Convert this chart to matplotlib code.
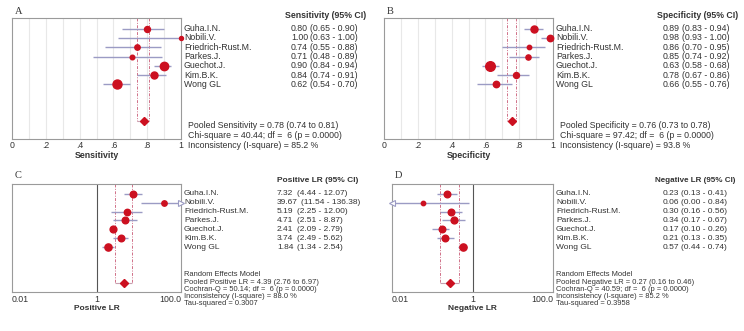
import numpy as np
import matplotlib
matplotlib.use("Agg")
import matplotlib.pyplot as plt

plt.rcParams["font.family"] = ["Liberation Sans", "DejaVu Sans"]

# study names shared by all four panels
studies = ["Guha.I.N.", "Nobili.V.", "Friedrich-Rust.M.", "Parkes.J.",
           "Guechot.J.", "Kim.B.K.", "Wong GL"]

# A - sensitivity
sens = [0.80, 1.00, 0.74, 0.71, 0.90, 0.84, 0.62]
sens_lo = [0.65, 0.63, 0.55, 0.48, 0.84, 0.74, 0.54]
sens_hi = [0.90, 1.00, 0.88, 0.89, 0.94, 0.91, 0.70]
sens_pool = [0.78, 0.74, 0.81]
sens_w = [3.0, 2.0, 2.7, 2.3, 4.2, 3.5, 4.5]  # marker radius (px)

# B - specificity
spec = [0.89, 0.98, 0.86, 0.85, 0.63, 0.78, 0.66]
spec_lo = [0.83, 0.93, 0.70, 0.74, 0.58, 0.67, 0.55]
spec_hi = [0.94, 1.00, 0.95, 0.92, 0.68, 0.86, 0.76]
spec_pool = [0.76, 0.73, 0.78]
spec_w = [3.5, 3.2, 2.2, 2.6, 4.8, 3.0, 3.2]

# C - positive LR
plr = [7.32, 39.67, 5.19, 4.71, 2.41, 3.74, 1.84]
plr_lo = [4.44, 11.54, 2.25, 2.51, 2.09, 2.49, 1.34]
plr_hi = [12.07, 136.38, 12.00, 8.87, 2.79, 5.62, 2.54]
plr_pool = [4.39, 2.76, 6.97]
plr_w = [3.3, 2.7, 3.2, 3.3, 3.4, 3.3, 3.6]

# D - negative LR
nlr = [0.23, 0.06, 0.30, 0.34, 0.17, 0.21, 0.57]
nlr_lo = [0.13, 0.00, 0.16, 0.17, 0.10, 0.13, 0.44]
nlr_hi = [0.41, 0.84, 0.56, 0.67, 0.26, 0.35, 0.74]
nlr_pool = [0.27, 0.16, 0.46]
nlr_w = [3.3, 2.2, 3.3, 3.4, 3.3, 3.3, 3.6]

W, H = 744, 331
RED = "#cc1020"
CI_COL = "#9b9bc4"
TXT = "#333333"

fig = plt.figure(figsize=(W / 100, H / 100), dpi=100)
fig.patch.set_facecolor("white")


def ftext(x, y, s, **kw):
    kw.setdefault("color", TXT)
    kw.setdefault("va", "center")
    fig.text(x / W, 1 - y / H, s, **kw)


def panel(box, est, lo, hi, pool, wts, log, row0, dy, diam_y):
    l, t, r, b = box
    ax = fig.add_axes([l / W, 1 - b / H, (r - l) / W, (b - t) / H])
    # y in figure pixel units (top down)
    ax.set_ylim(b, t)
    if log:
        ax.set_xscale("log")
        xmin, xmax = 0.01, 100.0
    else:
        xmin, xmax = 0.0, 1.0
    ax.set_xlim(xmin, xmax)
    for sp in ax.spines.values():
        sp.set_color("#9a9a9a")
        sp.set_linewidth(0.8)
    ax.set_yticks([])
    ax.tick_params(axis="x", length=0, labelsize=6.3, labelcolor=TXT)
    if log:
        ax.axvline(1, color="#555555", lw=0.8)
    else:
        for g in np.arange(0.1, 1.0, 0.1):
            ax.axvline(g, color="#e8e8e8", lw=0.8, zorder=0)
    # pooled CI box
    ax.vlines([pool[1], pool[2]], t, diam_y, colors="#d07088",
              linestyles=(0, (3, 1.5, 1, 1.5)), lw=0.7)
    ax.hlines(diam_y, pool[1], pool[2], colors="#c8a0b0", lw=0.8)
    ax.plot(pool[0], diam_y, marker="D", ms=4.5, color=RED, mec=RED, zorder=4)
    for i in range(len(est)):
        y = row0 + i * dy
        a, c = lo[i], hi[i]
        if log and a < xmin:
            a = xmin
            ax.plot(xmin, y, marker="<", ms=5, mfc="white", mec=CI_COL,
                    mew=0.8, clip_on=False, zorder=3)
        if log and c > xmax:
            c = xmax
            ax.plot(xmax, y, marker=">", ms=5, mfc="white", mec=CI_COL,
                    mew=0.8, clip_on=False, zorder=3)
        ax.hlines(y, a, c, colors=CI_COL, lw=1.0, zorder=2)
        ax.plot(est[i], y, "o", ms=wts[i] * 2 * 0.72, color=RED, mec=RED,
                zorder=5, clip_on=False)
    return ax


def table(est, lo, hi, names_x, val_x, ci_x, row0, dy, fs, nobili_x=None):
    for i in range(len(est)):
        y = row0 + i * dy
        ftext(names_x, y, studies[i], fontsize=fs)
        ftext(val_x, y, f"{est[i]:.2f}", fontsize=fs)
        cx = ci_x
        if nobili_x is not None and i == 1:
            cx = nobili_x
        ftext(cx, y, f"({lo[i]:.2f} - {hi[i]:.2f})", fontsize=fs)


FS = 6.3
FS2 = 6.0
FS3 = 5.4
sum_y = [275.0 + 7.2 * k for k in range(5)]

# ---- A ----
axA = panel((12, 18, 181, 139), sens, sens_lo, sens_hi, sens_pool, sens_w,
            False, 28.7, 9.27, 121)
axA.set_xticks([0, .2, .4, .6, .8, 1])
axA.set_xticklabels(["0", ".2", ".4", ".6", ".8", "1"])
axA.tick_params(axis="x", pad=1.5)
table(sens, sens_lo, sens_hi, 184, 291, 310, 28.7, 9.27, FS)
ftext(285, 15, "Sensitivity (95% CI)", fontsize=FS, fontweight="bold")
ftext(96.5, 155.5, "Sensitivity", fontsize=FS, fontweight="bold", ha="center")
ftext(188, 125, "Pooled Sensitivity = 0.78 (0.74 to 0.81)", fontsize=FS)
ftext(188, 135, "Chi-square = 40.44; df =  6 (p = 0.0000)", fontsize=FS)
ftext(188, 145, "Inconsistency (I-square) = 85.2 %", fontsize=FS)
ftext(15, 12, "A", fontsize=7.5, family="Liberation Serif")

# ---- B ----
axB = panel((384, 18, 553, 139), spec, spec_lo, spec_hi, spec_pool, spec_w,
            False, 28.7, 9.27, 121)
axB.set_xticks([0, .2, .4, .6, .8, 1])
axB.set_xticklabels(["0", ".2", ".4", ".6", ".8", "1"])
axB.tick_params(axis="x", pad=1.5)
table(spec, spec_lo, spec_hi, 556, 663, 682, 28.7, 9.27, FS)
ftext(657, 15, "Specificity (95% CI)", fontsize=FS, fontweight="bold")
ftext(468.5, 155.5, "Specificity", fontsize=FS, fontweight="bold", ha="center")
ftext(560, 125, "Pooled Specificity = 0.76 (0.73 to 0.78)", fontsize=FS)
ftext(560, 135, "Chi-square = 97.42; df =  6 (p = 0.0000)", fontsize=FS)
ftext(560, 145, "Inconsistency (I-square) = 93.8 %", fontsize=FS)
ftext(387, 12, "B", fontsize=7.5, family="Liberation Serif")


def log_ticks(ax):
    ax.set_xticks([0.01, 1, 100])
    ax.set_xticks([], minor=True)
    ax.set_xticklabels(["0.01", "1", "100.0"])
    labs = ax.get_xticklabels()
    labs[0].set_ha("left")
    labs[2].set_ha("right")
    ax.tick_params(axis="x", pad=2.5)


# ---- C ----
axC = panel((12, 184, 181, 292), plr, plr_lo, plr_hi, plr_pool, plr_w,
            True, 193.7, 8.9, 283.3)
log_ticks(axC)
table(plr, plr_lo, plr_hi, 184, 277, 297, 193.7, 8.9, FS2, nobili_x=301)
ftext(277, 180, "Positive LR (95% CI)", fontsize=FS2, fontweight="bold")
ftext(96.5, 309, "Positive LR", fontsize=FS2, fontweight="bold", ha="center")
c_lines = ["Random Effects Model",
           "Pooled Positive LR = 4.39 (2.76 to 6.97)",
           "Cochran-Q = 50.14; df =  6 (p = 0.0000)",
           "Inconsistency (I-square) = 88.0 %",
           "Tau-squared = 0.3007"]
for s, y in zip(c_lines, sum_y):
    ftext(184, y, s, fontsize=FS3)
ftext(15, 176, "C", fontsize=7.5, family="Liberation Serif")

# ---- D ----
axD = panel((392, 184, 553, 292), nlr, nlr_lo, nlr_hi, nlr_pool, nlr_w,
            True, 193.7, 8.9, 283.3)
log_ticks(axD)
table(nlr, nlr_lo, nlr_hi, 556, 663, 681, 193.7, 8.9, FS2)
ftext(655, 180, "Negative LR (95% CI)", fontsize=5.8, fontweight="bold")
ftext(472.5, 309, "Negative LR", fontsize=FS2, fontweight="bold", ha="center")
d_lines = ["Random Effects Model",
           "Pooled Negative LR = 0.27 (0.16 to 0.46)",
           "Cochran-Q = 40.59; df =  6 (p = 0.0000)",
           "Inconsistency (I-square) = 85.2 %",
           "Tau-squared = 0.3958"]
for s, y in zip(d_lines, sum_y):
    ftext(556, y, s, fontsize=FS3)
ftext(395, 176, "D", fontsize=7.5, family="Liberation Serif")

fig.savefig("out.png", dpi=100, facecolor="white")
